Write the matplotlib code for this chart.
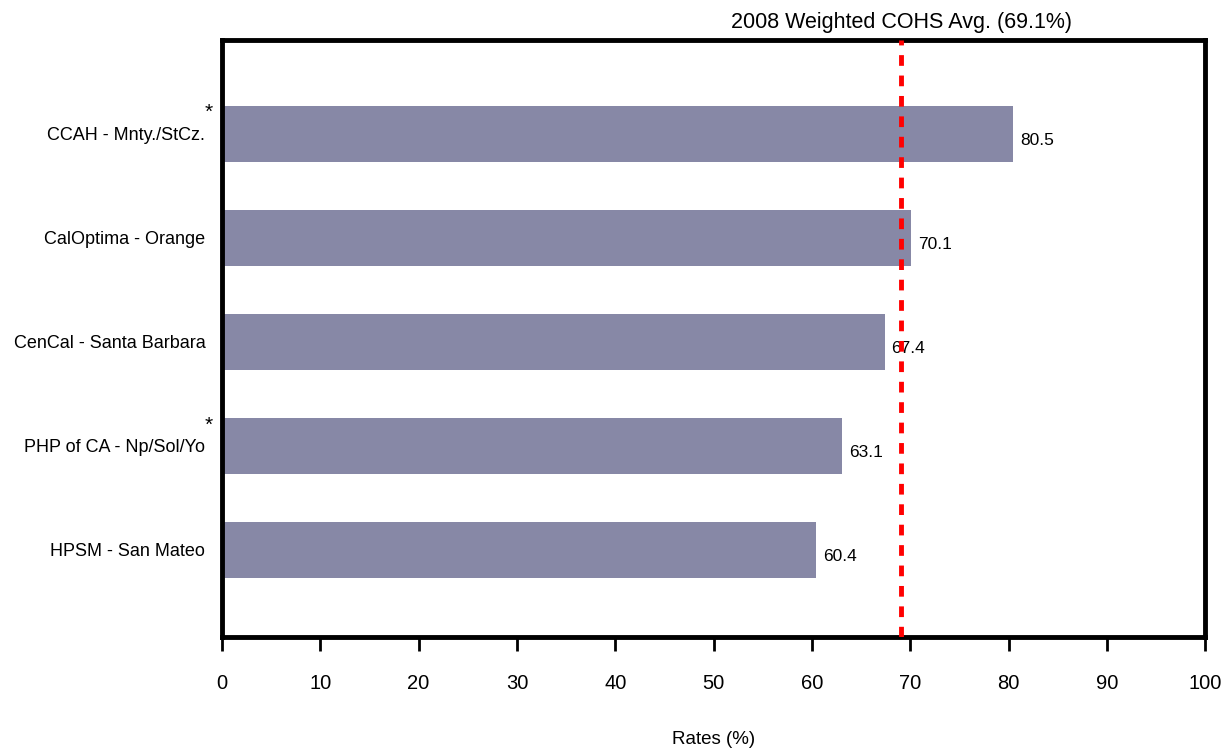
import matplotlib
matplotlib.use("Agg")
import matplotlib.pyplot as plt
from matplotlib.transforms import offset_copy

plt.rcParams['font.family'] = ['Liberation Sans', 'DejaVu Sans']

# Plan names (top to bottom), rates and whether the plan is flagged
plans = ["CCAH - Mnty./StCz.", "CalOptima - Orange", "CenCal - Santa Barbara",
         "PHP of CA - Np/Sol/Yo", "HPSM - San Mateo"]
rates = [80.5, 70.1, 67.4, 63.1, 60.4]
flagged = [True, False, False, True, False]
cohs_avg = 69.1
x_ticks = [0, 10, 20, 30, 40, 50, 60, 70, 80, 90, 100]

fig = plt.figure(figsize=(12.31, 7.48), dpi=100)
ax = fig.add_axes([0.1803, 0.1484, 0.7987, 0.7981])

ypos = list(range(len(plans)))
ax.barh(ypos, rates, height=0.54, color='#8788A6', zorder=2)

for y, v in zip(ypos, rates):
    ax.text(v + 0.7, y + 0.07, f"{v:.1f}", va='center', ha='left',
            fontsize=12.5, color='black')

ax.axvline(cohs_avg, color='#FF0000', lw=3.5, ls=(0, (2.2, 2.0)), zorder=3)
title_tr = offset_copy(ax.get_xaxis_transform(), fig=fig, x=0, y=9, units='points')
ax.text(cohs_avg, 1.0, f"2008 Weighted COHS Avg. ({cohs_avg}%)",
        transform=title_tr, ha='center', va='baseline',
        fontsize=15.5, color='black')

ax.set_xlim(0, 100)
ax.set_ylim(len(plans) - 1 + 0.84, -0.9)
ax.set_xticks(x_ticks)
ax.set_xticklabels([str(t) for t in x_ticks], fontsize=14.5)
ax.tick_params(axis='x', length=10, width=2, pad=17, direction='out')
ax.set_yticks(ypos)
ax.set_yticklabels(plans, fontsize=13)
ax.tick_params(axis='y', length=0, pad=12)

for y, f in zip(ypos, flagged):
    if f:
        ax.text(-1.3, y - 0.2, "*", transform=ax.transData, ha='center',
                va='center', fontsize=15, clip_on=False)

for s in ax.spines.values():
    s.set_linewidth(3.5)
    s.set_color('black')

ax.set_xlabel("Rates (%)", fontsize=13.5, labelpad=27)

fig.savefig("out.png", dpi=100, facecolor='white')
